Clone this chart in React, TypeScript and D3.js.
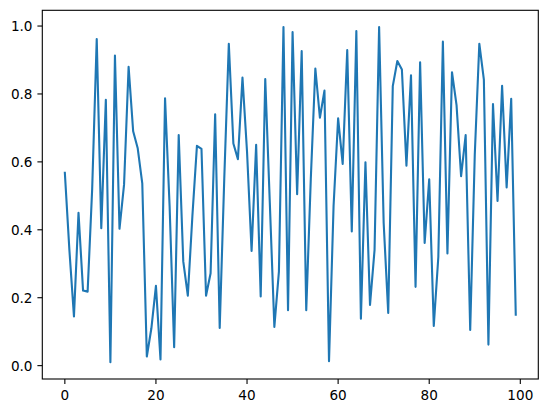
import * as d3 from 'd3';
import { useEffect, useRef } from 'react';

// values, one per index 0..99
const values = [
  0.568, 0.34, 0.145, 0.45, 0.221, 0.218, 0.52, 0.962, 0.405, 0.783,
  0.01, 0.913, 0.403, 0.533, 0.88, 0.69, 0.64, 0.537, 0.027, 0.11,
  0.235, 0.018, 0.787, 0.47, 0.054, 0.679, 0.307, 0.206, 0.44, 0.647,
  0.638, 0.206, 0.272, 0.74, 0.111, 0.55, 0.948, 0.654, 0.608, 0.848,
  0.63, 0.338, 0.65, 0.204, 0.844, 0.48, 0.114, 0.277, 0.997, 0.163,
  0.982, 0.505, 0.926, 0.163, 0.55, 0.875, 0.73, 0.81, 0.013, 0.47,
  0.728, 0.594, 0.929, 0.395, 0.985, 0.138, 0.599, 0.179, 0.341, 0.997,
  0.42, 0.155, 0.823, 0.897, 0.872, 0.589, 0.855, 0.232, 0.893, 0.361,
  0.549, 0.117, 0.32, 0.954, 0.33, 0.864, 0.767, 0.558, 0.679, 0.105,
  0.62, 0.948, 0.842, 0.062, 0.77, 0.485, 0.824, 0.525, 0.786, 0.15,
];

const xTicks = [0, 20, 40, 60, 80, 100];
const yTicks = [0, 0.2, 0.4, 0.6, 0.8, 1.0];

const App: React.FC = () => {
  const ref = useRef<null | SVGSVGElement>(null);

  useEffect(() => {
    const width = 547;
    const height = 413;
    const left = 42.3;
    const right = 538.3;
    const top = 10.3;
    const bottom = 379;
    const tickLen = 4.9;
    const font = 'DejaVu Sans, sans-serif';

    const svg = d3.select(ref.current);
    svg.selectAll('*').remove();
    svg.attr('width', width).attr('height', height);

    // matplotlib-style 5% margins around the data
    const n = values.length;
    const xPad = (n - 1) * 0.05;
    const x = d3
      .scaleLinear()
      .domain([-xPad, n - 1 + xPad])
      .range([left, right]);

    const [yMin, yMax] = d3.extent(values) as [number, number];
    const yPad = (yMax - yMin) * 0.05;
    const y = d3
      .scaleLinear()
      .domain([yMin - yPad, yMax + yPad])
      .range([bottom, top]);

    // the series
    const line = d3
      .line<number>()
      .x((_, i) => x(i))
      .y((d) => y(d));

    svg
      .append('path')
      .datum(values)
      .attr('fill', 'none')
      .attr('stroke', '#1f77b4')
      .attr('stroke-width', 2.1)
      .attr('stroke-linejoin', 'round')
      .attr('stroke-linecap', 'square')
      .attr('d', line);

    // frame
    svg
      .append('rect')
      .attr('x', left)
      .attr('y', top)
      .attr('width', right - left)
      .attr('height', bottom - top)
      .attr('fill', 'none')
      .attr('stroke', '#000')
      .attr('stroke-width', 1.1);

    // x ticks
    const xg = svg.append('g');
    xg.selectAll('line')
      .data(xTicks)
      .join('line')
      .attr('x1', (d) => x(d))
      .attr('x2', (d) => x(d))
      .attr('y1', bottom)
      .attr('y2', bottom + tickLen)
      .attr('stroke', '#000')
      .attr('stroke-width', 1.1);
    xg.selectAll('text')
      .data(xTicks)
      .join('text')
      .attr('x', (d) => x(d))
      .attr('y', 399.5)
      .attr('text-anchor', 'middle')
      .attr('font-family', font)
      .attr('font-size', 13.6)
      .attr('fill', '#000')
      .text((d) => String(d));

    // y ticks
    const yg = svg.append('g');
    yg.selectAll('line')
      .data(yTicks)
      .join('line')
      .attr('x1', left - tickLen)
      .attr('x2', left)
      .attr('y1', (d) => y(d))
      .attr('y2', (d) => y(d))
      .attr('stroke', '#000')
      .attr('stroke-width', 1.1);
    yg.selectAll('text')
      .data(yTicks)
      .join('text')
      .attr('x', left - tickLen - 4.9)
      .attr('y', (d) => y(d) + 5)
      .attr('text-anchor', 'end')
      .attr('font-family', font)
      .attr('font-size', 13.6)
      .attr('fill', '#000')
      .text((d) => d.toFixed(1));
  }, []);

  return (
    <svg
      ref={ref}
      width={547}
      height={413}
      style={{ position: 'absolute', left: 0, top: 0, background: '#fff' }}
    />
  );
};

export default App;
